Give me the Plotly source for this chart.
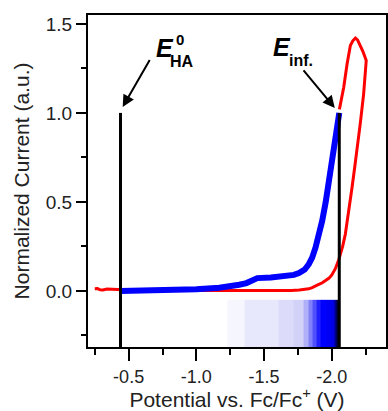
import plotly.graph_objects as go

# ---- data ----
red_x = [-0.25, -0.27, -0.29, -0.31, -0.34, -0.40, -0.50, -0.70, -1.00, -1.30, -1.50, -1.70,
         -1.76, -1.80, -1.83, -1.855, -1.88, -1.90, -1.93, -1.953, -1.98, -2.00, -2.026, -2.051,
         -2.063, -2.08, -2.10, -2.125, -2.149, -2.17, -2.186, -2.21, -2.235, -2.254,
         -2.23, -2.21, -2.19, -2.174, -2.155, -2.137, -2.113, -2.088, -2.056]
red_y = [0.012, 0.013, 0.006, 0.005, 0.011, 0.008, 0.005, 0.003, 0.002, 0.001, 0.001, 0.003,
         0.005, 0.008, 0.012, 0.019, 0.026, 0.035, 0.046, 0.057, 0.072, 0.090, 0.125, 0.175,
         0.205, 0.250, 0.320, 0.440, 0.580, 0.700, 0.810, 0.940, 1.107, 1.294,
         1.345, 1.380, 1.410, 1.420, 1.405, 1.379, 1.276, 1.144, 1.020]

blue_x = [-0.44, -0.60, -0.80, -1.00, -1.169, -1.25, -1.316, -1.37, -1.40, -1.43, -1.45, -1.55,
          -1.66, -1.72, -1.757, -1.80, -1.83, -1.855, -1.88, -1.905, -1.929, -1.955, -1.978,
          -2.00, -2.015, -2.035, -2.047, -2.055]
blue_y = [0.000, 0.002, 0.005, 0.010, 0.018, 0.025, 0.035, 0.044, 0.054, 0.066, 0.072, 0.075,
          0.082, 0.090, 0.100, 0.120, 0.150, 0.187, 0.244, 0.310, 0.394, 0.500, 0.619,
          0.720, 0.806, 0.900, 0.957, 1.000]

marker_x = [-0.44, -2.055]          # E_HA^0 and E_inf. potentials
marker_top = 1.0

grad_edges = [-1.23, -1.353, -1.61, -1.72, -1.794, -1.83, -1.86, -1.89, -1.92, -1.96,
              -2.00, -2.02, -2.035, -2.055]
grad_level = [0.04, 0.10, 0.15, 0.19, 0.30, 0.45, 0.60, 0.75, 0.85, 0.88, 0.92, 0.96, 1.00]
grad_y = [-0.05, -0.32]

x_ticks = [-0.5, -1.0, -1.5, -2.0]
x_ticktext = ["-0.5", "-1.0", "-1.5", "-2.0"]
y_ticks = [0.0, 0.5, 1.0, 1.5]
y_ticktext = ["0.0", "0.5", "1.0", "1.5"]

FONT = "Arial, Liberation Sans, sans-serif"

fig = go.Figure()

fig.add_trace(go.Heatmap(
    x=grad_edges, y=grad_y, z=[grad_level], zmin=0, zmax=1, zsmooth=False,
    colorscale=[[0, "#ffffff"], [0.2, "#d0d0f8"], [0.85, "#0000ff"], [0.92, "#0000e0"], [1, "#000030"]],
    showscale=False, hoverinfo="skip"))

fig.add_trace(go.Scatter(x=red_x, y=red_y, mode="lines",
                         line=dict(color="#ff0000", width=3),
                         hoverinfo="skip", showlegend=False))
fig.add_trace(go.Scatter(x=blue_x, y=blue_y, mode="lines",
                         line=dict(color="#0000ff", width=6),
                         hoverinfo="skip", showlegend=False))
for mx in marker_x:
    fig.add_trace(go.Scatter(x=[mx, mx], y=[marker_top, -0.4], mode="lines",
                             line=dict(color="black", width=3),
                             hoverinfo="skip", showlegend=False))

ann = []
# E_HA^0 label
ann.append(dict(x=-0.765, y=1.367, text="<b><i>E</i></b>", showarrow=False,
                font=dict(size=25, family=FONT, color="black")))
ann.append(dict(x=-0.88, y=1.412, text="<b>0</b>", showarrow=False,
                font=dict(size=15, family=FONT, color="black")))
ann.append(dict(x=-0.895, y=1.289, text="<b>HA</b>", showarrow=False,
                font=dict(size=16, family=FONT, color="black")))
# E_inf label
ann.append(dict(x=-1.632, y=1.369, text="<b><i>E</i></b>", showarrow=False,
                font=dict(size=25, family=FONT, color="black")))
ann.append(dict(x=-1.776, y=1.294, text="<b>inf.</b>", showarrow=False,
                font=dict(size=16, family=FONT, color="black")))
# arrows
ann.append(dict(x=-0.456, y=1.033, ax=-0.662, ay=1.306, axref="x", ayref="y",
                text="", showarrow=True, arrowhead=2, arrowsize=1.2, arrowwidth=2, arrowcolor="black"))
ann.append(dict(x=-2.022, y=1.028, ax=-1.782, ay=1.247, axref="x", ayref="y",
                text="", showarrow=True, arrowhead=2, arrowsize=1.2, arrowwidth=2, arrowcolor="black"))

fig.update_layout(
    width=388, height=411,
    margin=dict(l=88, r=2, t=15, b=64),
    paper_bgcolor="white", plot_bgcolor="white",
    showlegend=False,
    font=dict(family=FONT, color="black"),
    annotations=ann,
)
fig.update_xaxes(
    range=[-0.2, -2.4], showgrid=False, zeroline=False, automargin=False,
    showline=True, linecolor="black", linewidth=2, mirror=True,
    ticks="outside", ticklen=12, tickwidth=2, tickcolor="black",
    tickvals=x_ticks, ticktext=x_ticktext,
    tickfont=dict(size=18, family=FONT, color="#222"),
    minor=dict(dtick=0.25, tick0=0, ticks="outside", ticklen=6, tickwidth=2, tickcolor="black"),
    title=dict(text="Potential vs. Fc/Fc<sup>+</sup> (V)", font=dict(size=21, family=FONT, color="#222"),
               standoff=2),
)
fig.update_yaxes(
    range=[-0.315, 1.55], showgrid=False, zeroline=False, automargin=False,
    showline=True, linecolor="black", linewidth=2, mirror=True,
    ticks="outside", ticklen=10, tickwidth=2, tickcolor="black",
    tickvals=y_ticks, ticktext=y_ticktext,
    tickfont=dict(size=19, family=FONT, color="#222"),
    minor=dict(dtick=0.25, tick0=0, ticks="outside", ticklen=5, tickwidth=2, tickcolor="black"),
    title=dict(text="Normalized Current (a.u.)", font=dict(size=21, family=FONT, color="#222"),
               standoff=10),
)

fig.write_html("out.html", config={"displayModeBar": False, "staticPlot": True})

# remove the browser's default page margin so the figure sits at the window's corner
with open("out.html", "r", encoding="utf-8") as f:
    html = f.read()
html = html.replace("<body>", '<body style="margin:0;padding:0;overflow:hidden">', 1)
with open("out.html", "w", encoding="utf-8") as f:
    f.write(html)
